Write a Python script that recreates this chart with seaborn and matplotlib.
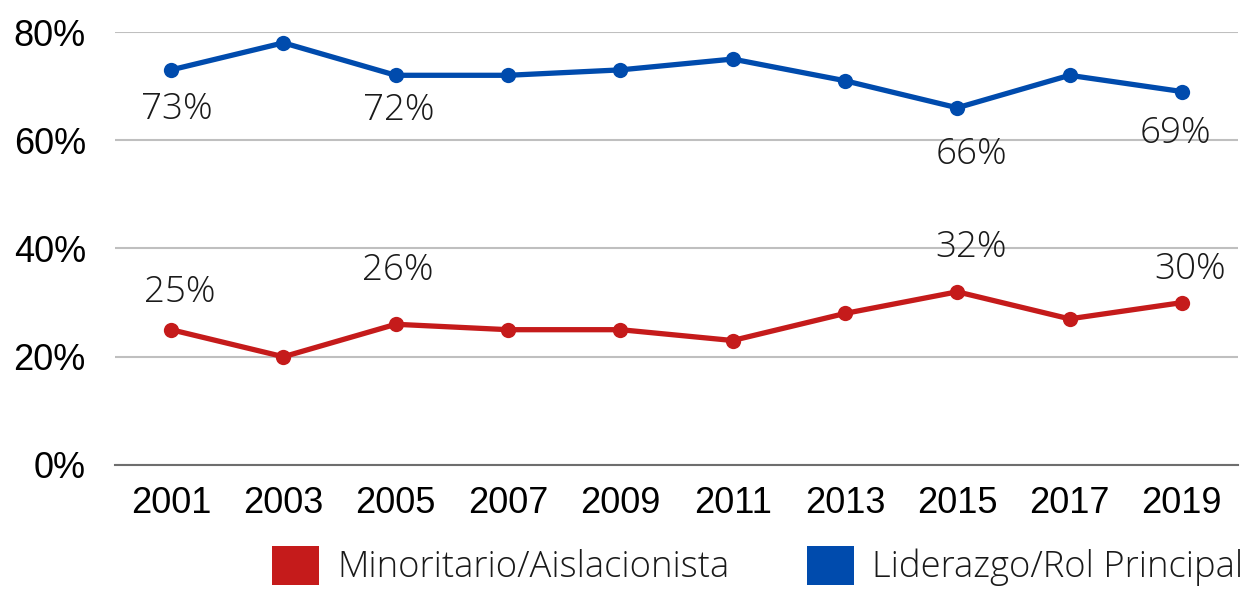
import matplotlib
matplotlib.use("Agg")
import matplotlib.pyplot as plt
from matplotlib.patches import Patch
import seaborn as sns
import pandas as pd

years = [2001, 2003, 2005, 2007, 2009, 2011, 2013, 2015, 2017, 2019]
liderazgo = [73, 78, 72, 72, 73, 75, 71, 66, 72, 69]
minoritario = [25, 20, 26, 25, 25, 23, 28, 32, 27, 30]
series_names = ["Minoritario/Aislacionista", "Liderazgo/Rol Principal"]
y_ticks = [0, 20, 40, 60, 80]
y_tick_labels = ["0%", "20%", "40%", "60%", "80%"]
labeled_years = [2001, 2005, 2015, 2019]

RED = "#C51B1B"
BLUE = "#004BAD"
palette = {series_names[0]: RED, series_names[1]: BLUE}

df = pd.DataFrame({
    "year": years * 2,
    "value": minoritario + liderazgo,
    "serie": [series_names[0]] * len(years) + [series_names[1]] * len(years),
})

sns.set_theme(style="white")
plt.rcParams["font.family"] = ["Liberation Sans", "DejaVu Sans"]

DPI = 100
fig = plt.figure(figsize=(12.53, 5.89), dpi=DPI)
ax = fig.add_axes([115 / 1253, 1 - 465 / 589, (1238 - 115) / 1253, (465 - 32) / 589])

sns.lineplot(data=df, x="year", y="value", hue="serie", palette=palette,
             marker="o", markersize=11, markeredgewidth=0, linewidth=3.8,
             legend=False, ax=ax, clip_on=False, zorder=3)

ax.set_xlim(2000, 2020)
ax.set_ylim(0, 80)
ax.set_xticks(years)
ax.set_xticklabels([str(y) for y in years])
ax.set_yticks(y_ticks)
ax.set_yticklabels(y_tick_labels)
ax.set_xlabel("")
ax.set_ylabel("")
ax.tick_params(axis="both", length=0, labelsize=26, labelcolor="black")
ax.tick_params(axis="x", pad=15)
ax.tick_params(axis="y", pad=21)
for s in ["top", "right", "left"]:
    ax.spines[s].set_visible(False)
ax.spines["bottom"].set_color("#6E6E6E")
ax.spines["bottom"].set_linewidth(1.5)
ax.spines["bottom"].set_zorder(2)
ax.yaxis.grid(True, color="#BFBFBF", linewidth=1.5)
ax.set_axisbelow(True)

# data labels: offsets in pixels (dx, dy) per labeled point
px = 72 / DPI
blue_off = {2001: (6, -40), 2005: (3, -35), 2015: (14, -47), 2019: (-6, -42)}
red_off = {2001: (9, 37), 2005: (2, 54), 2015: (14, 44), 2019: (8, 33)}
label_font = dict(family=["Open Sans", "DejaVu Sans"], fontweight="light",
                  fontsize=26.5, color="#1A1A1A")
for vals, offs in ((liderazgo, blue_off), (minoritario, red_off)):
    for yr in labeled_years:
        v = vals[years.index(yr)]
        dx, dy = offs[yr]
        ax.annotate(f"{v}%", (yr, v), xytext=(dx * px, dy * px),
                    textcoords="offset points", ha="center", va="center",
                    **label_font, zorder=4)

handles = [Patch(facecolor=RED, edgecolor="none"), Patch(facecolor=BLUE, edgecolor="none")]
leg = fig.legend(handles, series_names, loc="center left",
                 bbox_to_anchor=(272 / 1253, 1 - 566 / 589), ncol=2, frameon=False,
                 borderpad=0, borderaxespad=0, handlelength=1.29, handleheight=1.29,
                 handletextpad=0.5, columnspacing=2.13,
                 prop=dict(family=["Open Sans", "DejaVu Sans"], weight="light", size=26.2))
for t in leg.get_texts():
    t.set_color("#1A1A1A")

fig.savefig("out.png", dpi=DPI)
